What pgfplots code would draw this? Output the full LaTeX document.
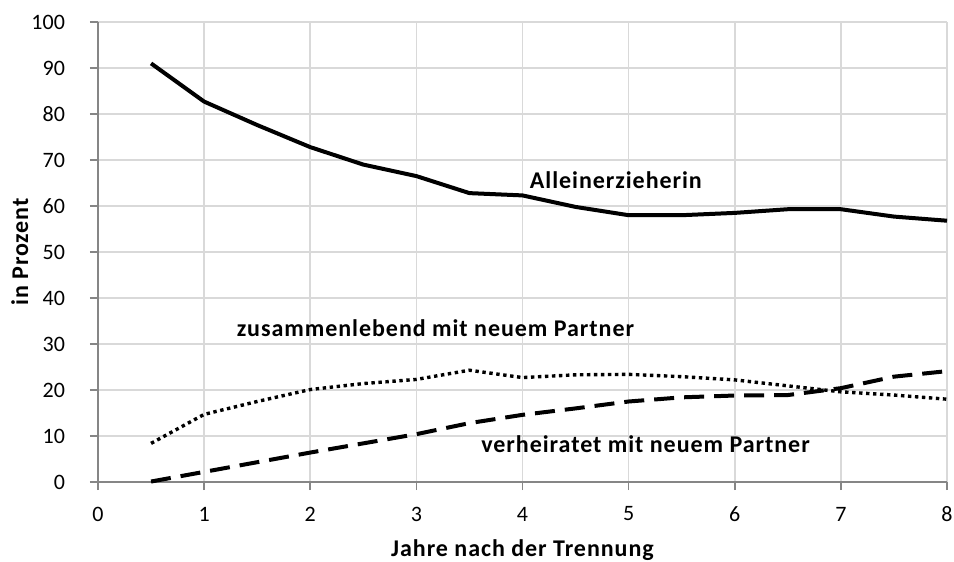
\documentclass[border=0pt]{standalone}
\usepackage{fontspec}
\setmainfont{Carlito}
\newfontfamily\lblfont[LetterSpace=4]{Carlito}
\usepackage{pgfplots}
\pgfplotsset{compat=1.18}
\definecolor{axgray}{HTML}{868686}
\definecolor{gridgray}{HTML}{D9D9D9}
\begin{document}
\begin{tikzpicture}
\useasboundingbox (-49pt,-40pt) rectangle (428pt,241pt);
\begin{axis}[
  scale only axis, width=424.5pt, height=230pt,
  xmin=0, xmax=8, ymin=0, ymax=100,
  xtick={0,1,...,8}, ytick={0,10,...,100},
  axis x line*=bottom, axis y line*=left,
  axis line style={draw=axgray, line width=0.8pt, -},
  grid=major, grid style={draw=gridgray, line width=0.8pt},
  tick align=outside, major tick length=4pt,
  tick style={draw=axgray, line width=0.8pt},
  /pgf/number format/assume math mode=true,
  ticklabel style={font=\fontsize{11}{13}\selectfont, text=black},
  xticklabel style={anchor=center, yshift=-12pt},
  yticklabel style={anchor=east, xshift=-9pt},
  xlabel={Jahre nach der Trennung},
  ylabel={in Prozent},
  label style={font=\fontsize{12}{14}\selectfont\lblfont\bfseries},
  xlabel style={at={(axis description cs:0.5,-0.148)}, anchor=center},
  ylabel style={at={(axis description cs:-0.092,0.5)}, anchor=center},
  clip=false,
]
\addplot[black, line width=2pt, line join=round] coordinates {
(0.5,91.0) (1,82.7) (1.5,77.6) (2,72.8) (2.5,69.0) (3,66.5) (3.5,62.8) (4,62.3)
(4.5,59.8) (5,58.0) (5.5,58.0) (6,58.5) (6.5,59.3) (7,59.3) (7.5,57.7) (8,56.8)};
\addplot[black, line width=1.7pt, dash pattern=on 1.7pt off 1.8pt] coordinates {
(0.5,8.4) (1,14.7) (1.5,17.5) (2,20.1) (2.5,21.4) (3,22.3) (3.5,24.3) (4,22.7)
(4.5,23.3) (5,23.4) (5.5,22.9) (6,22.2) (6.5,20.9) (7,19.6) (7.5,18.9) (8,18.0)};
\addplot[black, line width=2pt, dash pattern=on 10pt off 5pt] coordinates {
(0.5,0.1) (1,2.2) (1.5,4.3) (2,6.4) (2.5,8.4) (3,10.4) (3.5,12.8) (4,14.6)
(4.5,16.0) (5,17.5) (5.5,18.4) (6,18.8) (6.5,18.9) (7,20.4) (7.5,22.9) (8,24.1)};
\node[font=\fontsize{12}{14}\selectfont\lblfont\bfseries] at (axis cs:4.88,65.6) {Alleinerzieherin};
\node[font=\fontsize{12}{14}\selectfont\lblfont\bfseries] at (axis cs:3.18,33.5) {zusammenlebend mit neuem Partner};
\node[font=\fontsize{12}{14}\selectfont\lblfont\bfseries] at (axis cs:5.16,8.3) {verheiratet mit neuem Partner};
\end{axis}
\end{tikzpicture}
\end{document}
